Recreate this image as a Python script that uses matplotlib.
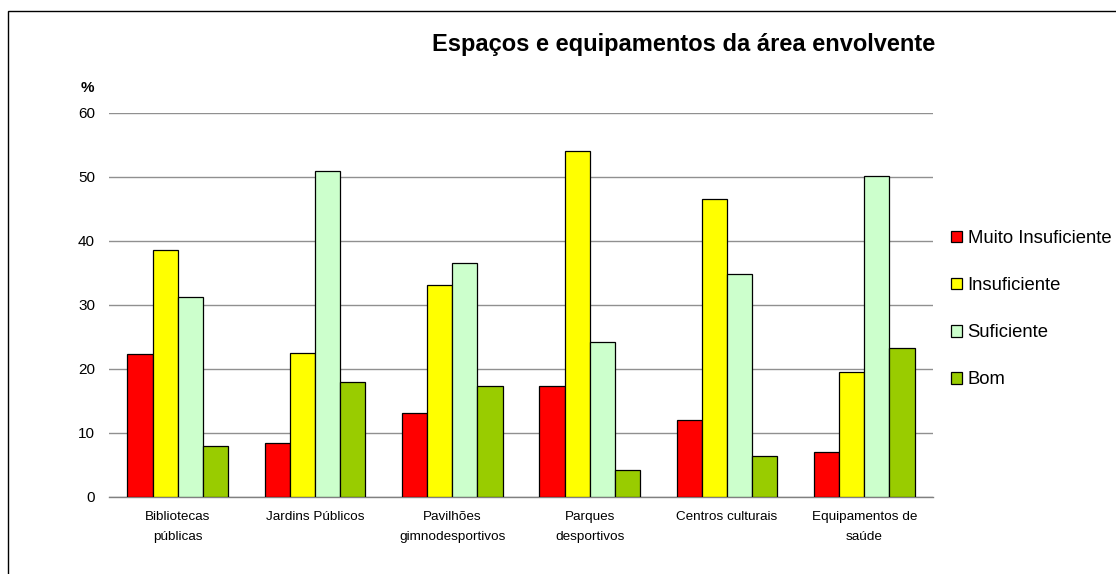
import numpy as np
import matplotlib.pyplot as plt
from matplotlib.patches import Rectangle

plt.rcParams['font.family'] = ['Liberation Sans', 'DejaVu Sans']

categorias = ["Bibliotecas\npúblicas", "Jardins Públicos", "Pavilhões\ngimnodesportivos",
              "Parques\ndesportivos", "Centros culturais", "Equipamentos de\nsaúde"]
series = ["Muito Insuficiente", "Insuficiente", "Suficiente", "Bom"]
muito_insuf = [22.3, 8.5, 13.1, 17.3, 12.1, 7.0]
insuf = [38.6, 22.5, 33.2, 54.1, 46.6, 19.5]
suficiente = [31.2, 50.9, 36.5, 24.2, 34.8, 50.2]
bom = [7.9, 18.0, 17.3, 4.2, 6.4, 23.3]
cores = ["#FF0000", "#FFFF00", "#CCFFCC", "#99CC00"]

fig = plt.figure(figsize=(11.16, 5.74), dpi=100)
ax = fig.add_axes([109/1116, 1-497/574, (933-109)/1116, (497-113)/574])

x = np.arange(len(categorias))
w = 0.183
valores = [muito_insuf, insuf, suficiente, bom]
for i, (v, c, s) in enumerate(zip(valores, cores, series)):
    ax.bar(x + (i - 1.5)*w, v, w, color=c, edgecolor="black", linewidth=0.9, label=s, zorder=3)

ax.set_xlim(-0.5, len(categorias) - 0.5)
ax.set_ylim(0, 60)
ax.set_yticks(range(0, 61, 10))
ax.grid(axis="y", color="#909090", linewidth=1, zorder=0)
for sp in ["top", "right", "left"]:
    ax.spines[sp].set_visible(False)
ax.spines["bottom"].set_color("#808080")
ax.spines["bottom"].set_linewidth(1)
ax.tick_params(length=0)
ax.tick_params(axis="y", labelsize=11, pad=10)
ax.set_xticks(x)
ax.set_xticklabels(categorias, fontsize=9.7, linespacing=1.95)
ax.tick_params(axis="x", pad=10)

fig.text(87/1116, 1-88/574, "%", fontsize=11, fontweight="bold", ha="center", va="center")
fig.text(684/1116, 1-44/574, "Espaços e equipamentos da área envolvente",
         fontsize=17, fontweight="bold", ha="center", va="center")

fig.legend(loc="upper left", bbox_to_anchor=(951/1116, 1-230/574), frameon=False,
           fontsize=13.3, handlelength=0.6, handleheight=0.6, handletextpad=0.3,
           labelspacing=1.63, borderaxespad=0, borderpad=0)

fig.patches.append(Rectangle((8/1116, -0.1), 1.2, 1-11/574 + 0.1, transform=fig.transFigure,
                             fill=False, edgecolor="black", linewidth=1))

fig.savefig("out.png", dpi=100)
